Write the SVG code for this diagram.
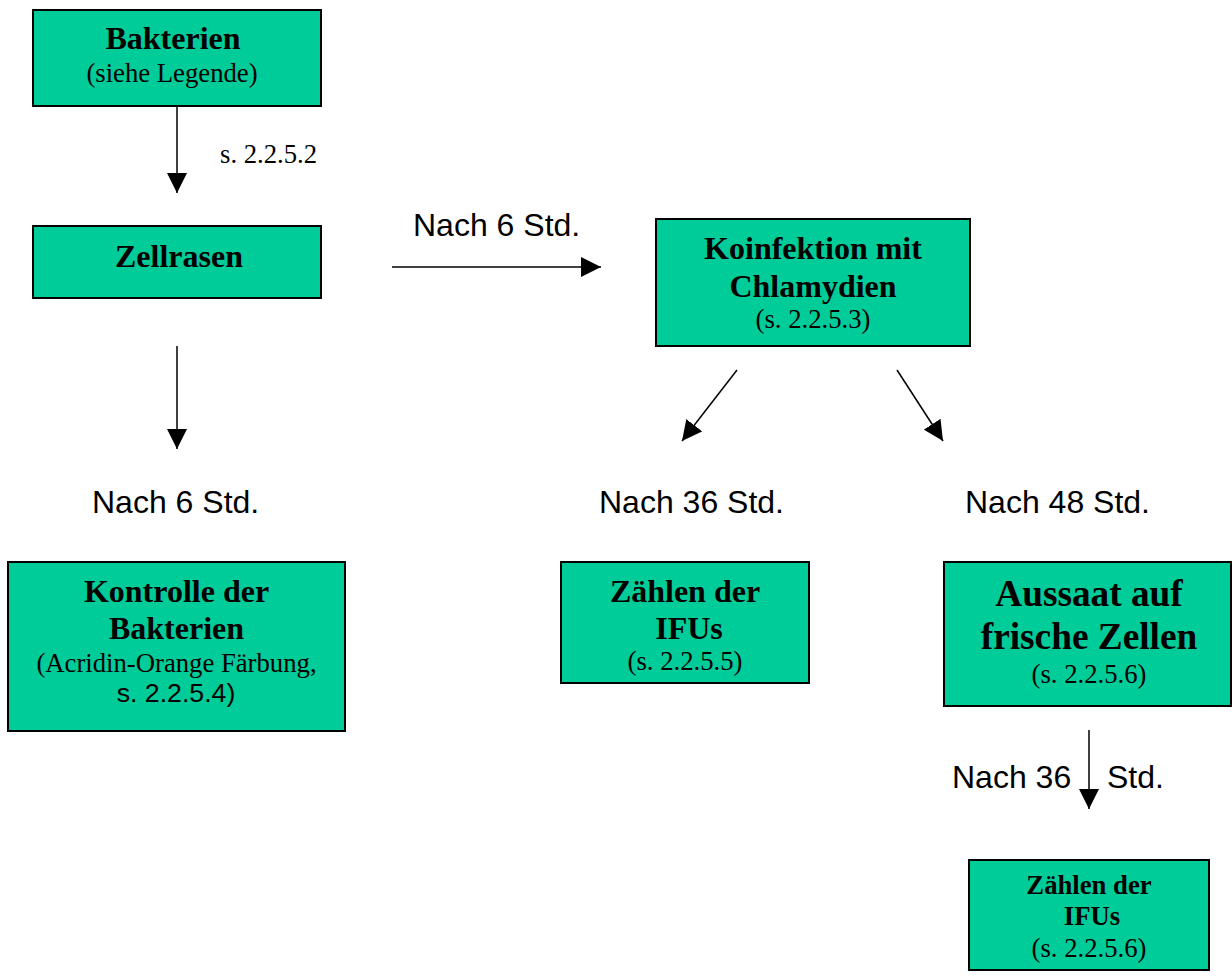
<svg xmlns="http://www.w3.org/2000/svg" width="1232" height="977" viewBox="0 0 1232 977">
<style>
.box{fill:#00cc99;stroke:#000;stroke-width:2}
.b{font-family:"Liberation Serif","Times New Roman",serif;font-weight:bold;font-size:32px;fill:#000;text-anchor:middle}
.bs{font-family:"Liberation Serif","Times New Roman",serif;font-weight:bold;font-size:26.7px;fill:#000;text-anchor:middle}
.bl{font-family:"Liberation Serif","Times New Roman",serif;font-weight:bold;font-size:37.3px;fill:#000;text-anchor:middle}
.r{font-family:"Liberation Serif","Times New Roman",serif;font-size:26.7px;fill:#000}
.rc{text-anchor:middle}
.a{font-family:"Liberation Sans",Arial,sans-serif;font-size:32px;fill:#000}
.as{font-family:"Liberation Sans",Arial,sans-serif;font-size:26.7px;fill:#000;text-anchor:middle}
.c{stroke:#000;stroke-width:1.5;fill:none;marker-end:url(#ah)}
</style>
<defs>
<marker id="ah" viewBox="0 0 20 20" refX="20" refY="10" markerWidth="20" markerHeight="20" markerUnits="userSpaceOnUse" orient="auto">
<path d="M0,0 L20,10 L0,20 z" fill="#000"/>
</marker>
</defs>
<rect width="1232" height="977" fill="#fff"/>
<g id="n-bakterien">
<rect class="box" x="33" y="10" width="288" height="96"/>
<text class="b" x="173" y="49">Bakterien</text>
<text class="r rc" x="172" y="82">(siehe Legende)</text>
</g>
<g id="n-zellrasen">
<rect class="box" x="33" y="226" width="288" height="72"/>
<text class="b" x="179" y="267">Zellrasen</text>
</g>
<g id="n-koinfektion">
<rect class="box" x="656" y="219" width="314" height="127"/>
<text class="b" x="813" y="259">Koinfektion mit</text>
<text class="b" x="813" y="297">Chlamydien</text>
<text class="r rc" x="813" y="328">(s. 2.2.5.3)</text>
</g>
<g id="n-kontrolle">
<rect class="box" x="8" y="562" width="337" height="169"/>
<text class="b" x="176.5" y="602">Kontrolle der</text>
<text class="b" x="176.5" y="639">Bakterien</text>
<text class="r rc" x="176.5" y="672">(Acridin-Orange Färbung,</text>
<text class="as" x="176" y="702">s. 2.2.5.4)</text>
</g>
<g id="n-zaehlen1">
<rect class="box" x="561" y="562" width="248" height="121"/>
<text class="b" x="685" y="602">Zählen der</text>
<text class="b" x="689" y="639">IFUs</text>
<text class="r rc" x="685" y="670">(s. 2.2.5.5)</text>
</g>
<g id="n-aussaat">
<rect class="box" x="944" y="562" width="287" height="144"/>
<text class="bl" x="1089" y="606">Aussaat auf</text>
<text class="bl" x="1089" y="649">frische Zellen</text>
<text class="r rc" x="1089" y="683">(s. 2.2.5.6)</text>
</g>
<g id="n-zaehlen2">
<rect class="box" x="969" y="860" width="240" height="110"/>
<text class="bs" x="1089" y="894">Zählen der</text>
<text class="bs" x="1092" y="925">IFUs</text>
<text class="r rc" x="1089" y="957">(s. 2.2.5.6)</text>
</g>
<g id="connectors">
<line class="c" x1="177" y1="106" x2="177" y2="193"/>
<line class="c" x1="177" y1="346" x2="177" y2="449"/>
<line class="c" x1="392" y1="267" x2="601" y2="267"/>
<line class="c" x1="737" y1="370" x2="682" y2="441"/>
<line class="c" x1="897" y1="370" x2="943" y2="441"/>
<line class="c" x1="1089" y1="730" x2="1089" y2="809"/>
</g>
<g id="labels">
<text class="r" x="220" y="163">s. 2.2.5.2</text>
<text class="a" x="413" y="236">Nach 6 Std.</text>
<text class="a" x="92" y="513">Nach 6 Std.</text>
<text class="a" x="599" y="513">Nach 36 Std.</text>
<text class="a" x="965" y="513">Nach 48 Std.</text>
<text class="a" x="952" y="788">Nach 36</text>
<text class="a" x="1107" y="788">Std.</text>
</g>
</svg>
